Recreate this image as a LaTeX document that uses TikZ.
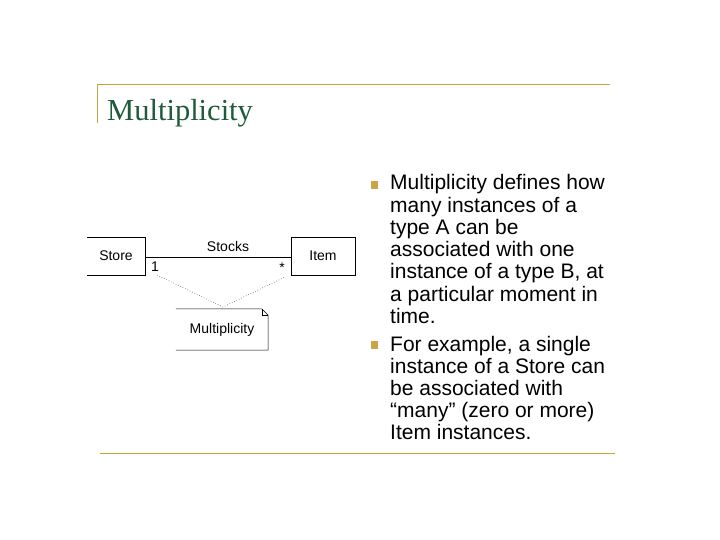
\documentclass[tikz,border=0pt]{standalone}
\usepackage{fontspec}
\setmainfont{Liberation Sans}
\newfontfamily\titlefont{Liberation Serif}
\definecolor{rulegold}{HTML}{BFA53A}
\definecolor{bulletgold}{HTML}{C9A548}
\definecolor{titlegreen}{HTML}{1F5A3A}
\begin{document}
\begin{tikzpicture}[x=1pt,y=-1pt,
  rulel/.style={draw=rulegold,line width=1pt},
  lbl/.style={inner sep=0pt,font=\fontsize{14}{16}\selectfont},
  bodytext/.style={anchor=base west,inner sep=0pt,font=\fontsize{21}{23}\selectfont},
  bul/.style={fill=bulletgold,minimum size=7.5pt,inner sep=0pt},
  umlline/.style={draw=black,line width=0.6pt},
  dots/.style={draw=black!70,dotted,line width=0.6pt}]
\useasboundingbox (0,0) rectangle (720,540);
% frame rules
\coordinate (tl) at (97,85);
\coordinate (tr) at (610,85);
\coordinate (lb) at (97,123);
\coordinate (bl) at (100,453);
\coordinate (br) at (615,453);
\draw[rulel] (lb) -- (tl) -- (tr);
\draw[rulel] (bl) -- (br);
% title
\node[anchor=base west,inner sep=0pt,text=titlegreen,font=\titlefont\fontsize{30.5}{32}\selectfont] (title) at (107,121) {Multiplicity};
% UML diagram
\node[lbl,minimum width=58pt,minimum height=38pt] (store) at (116,256) {Store};
\node[lbl,minimum width=64pt,minimum height=38pt] (item) at (323,256) {Item};
\draw[umlline] (store.north west) -- (store.north east) -- (store.south east) -- (store.south west);
\draw[umlline] (item.north west) rectangle (item.south east);
\coordinate (sa) at (store.east |- 0,257);
\coordinate (ia) at (item.west |- 0,257);
\draw[umlline] (sa) -- (ia);
\node[lbl] (stocks) at (228,246) {Stocks};
\node[lbl] (one) at (155,267) {1};
\node[lbl] (star) at (282,268) {*};
% note
\node[lbl,minimum width=92pt,minimum height=41pt] (note) at (222,329.5) {Multiplicity};
\coordinate (apex) at (223,307);
\coordinate (fa) at (262,309);
\coordinate (fb) at (268,315);
\coordinate (fc) at (262,315);
\draw[umlline,line width=0.5pt] (note.north west) -- (fa) -- (fb) -- (note.south east) -- (note.south west);
\draw[umlline,line width=0.4pt] (fa) -- (fc) -- (fb);
\coordinate (d1) at (157,275);
\coordinate (d2) at (285,277);
\draw[dots] (d1) -- (apex) -- (d2);
% bullets
\node[bul] (b1) at (374.5,185) {};
\node[bul] (b2) at (374.5,345) {};
\node[bodytext] (t1) at (390,190) {Multiplicity defines how};
\node[bodytext] (t2) at (390,212.2) {many instances of a};
\node[bodytext] (t3) at (390,234.4) {type A can be};
\node[bodytext] (t4) at (390,256.6) {associated with one};
\node[bodytext] (t5) at (390,278.8) {instance of a type B, at};
\node[bodytext] (t6) at (390,301) {a particular moment in};
\node[bodytext] (t7) at (390,323.2) {time.};
\node[bodytext] (u1) at (390,351) {For example, a single};
\node[bodytext] (u2) at (390,373) {instance of a Store can};
\node[bodytext] (u3) at (390,395) {be associated with};
\node[bodytext] (u4) at (390,417) {“many” (zero or more)};
\node[bodytext] (u5) at (390,439) {Item instances.};
\end{tikzpicture}
\end{document}
